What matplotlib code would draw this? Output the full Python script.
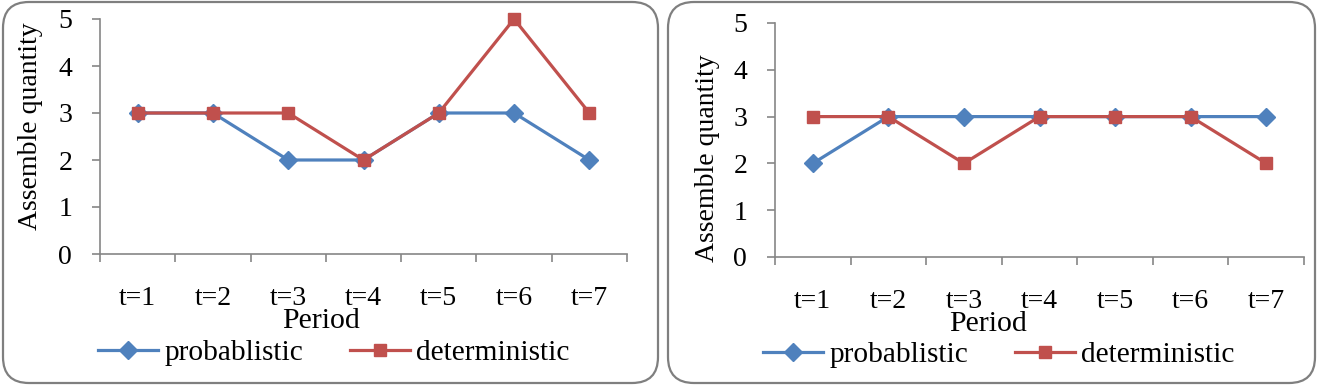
import matplotlib
matplotlib.use("Agg")
import matplotlib.pyplot as plt
from matplotlib.patches import FancyBboxPatch
from matplotlib.transforms import IdentityTransform

plt.rcParams['font.family'] = ['Liberation Serif', 'DejaVu Serif']
plt.rcParams['font.size'] = 20

periods = ["t=1", "t=2", "t=3", "t=4", "t=5", "t=6", "t=7"]
left_probabilistic = [3, 3, 2, 2, 3, 3, 2]
left_deterministic = [3, 3, 3, 2, 3, 5, 3]
right_probabilistic = [2, 3, 3, 3, 3, 3, 3]
right_deterministic = [3, 3, 2, 3, 3, 3, 2]
series_names = ["probablistic", "deterministic"]
y_ticks = [0, 1, 2, 3, 4, 5]

BLUE = "#4F81BD"
RED = "#C0504D"
AXC = "#868686"

W, H = 1326, 390
fig = plt.figure(figsize=(W / 100, H / 100), dpi=100)

# rounded panel borders (pixel coords, origin bottom-left)
for (x0, x1) in [(3, 658), (668, 1315)]:
    p = FancyBboxPatch((x0, 7), x1 - x0, 381,
                       boxstyle="round,pad=0,rounding_size=26",
                       transform=IdentityTransform(), fill=False,
                       edgecolor="#7f7f7f", linewidth=1.6)
    fig.patches.append(p)

def px_rect(x0, x1, ytop, ybot):
    return [x0 / W, (H - ybot) / H, (x1 - x0) / W, (ybot - ytop) / H]

panels = [
    dict(rect=px_rect(100, 627, 19, 254), prob=left_probabilistic, det=left_deterministic,
         ylab=(31, 126), period=(321, 321), leg=(98, 353)),
    dict(rect=px_rect(775, 1304, 23, 257), prob=right_probabilistic, det=right_deterministic,
         ylab=(707, 158), period=(988, 324), leg=(763, 355)),
]

x = list(range(1, len(periods) + 1))
for pn in panels:
    ax = fig.add_axes(pn["rect"])
    ax.plot(x, pn["prob"], color=BLUE, lw=2.3, marker="D", ms=9.5, clip_on=False,
            label=series_names[0], zorder=3)
    ax.plot(x, pn["det"], color=RED, lw=2.3, marker="s", ms=9, clip_on=False,
            label=series_names[1], zorder=4)
    ax.set_xlim(0.5, len(periods) + 0.5)
    ax.set_ylim(0, 5)
    ax.set_yticks(y_ticks)
    ax.set_xticks([i + 0.5 for i in range(0, len(periods) + 1)])
    ax.set_xticklabels([])
    ax.set_xticks(x, minor=True)
    ax.set_xticklabels(periods, minor=True)
    ax.tick_params(axis="x", which="minor", length=0, pad=23)
    ax.tick_params(axis="x", which="major", length=6, width=1.2, color=AXC, direction="out")
    ax.tick_params(axis="y", length=6, width=1.2, color=AXC, direction="out", pad=14)
    for s in ["top", "right"]:
        ax.spines[s].set_visible(False)
    for s in ["left", "bottom"]:
        ax.spines[s].set_color(AXC)
        ax.spines[s].set_linewidth(1.2)
    fig.text(pn["ylab"][0] / W, 1 - pn["ylab"][1] / H,
             "Assemble quantity", rotation=90, ha="center", va="center", fontsize=20)
    fig.text(pn["period"][0] / W, 1 - pn["period"][1] / H, "Period",
             ha="center", va="center", fontsize=21.5)
    fig.legend(handles=ax.get_lines(), loc="center left",
               bbox_to_anchor=(pn["leg"][0] / W, 1 - pn["leg"][1] / H),
               ncol=2, frameon=False, handlelength=2.05, handletextpad=0.2,
               columnspacing=1.6, borderpad=0, borderaxespad=0, fontsize=21.2)

fig.savefig("out.png", dpi=100)
